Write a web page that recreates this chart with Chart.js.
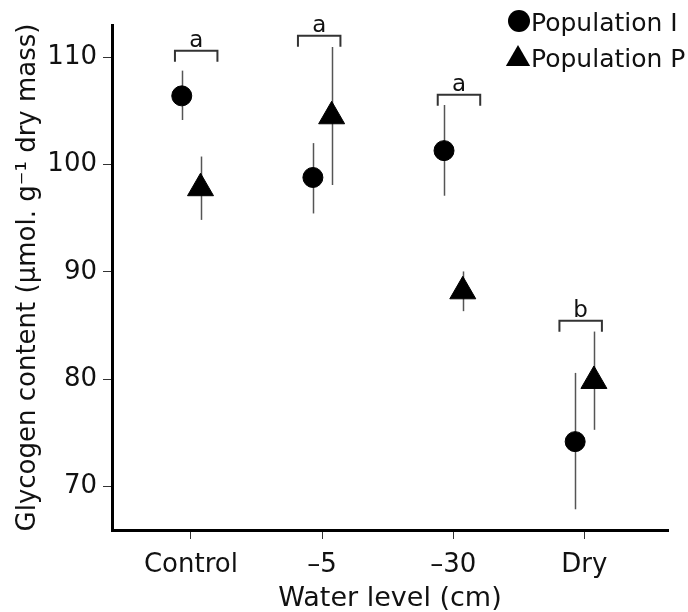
<!DOCTYPE html>
<html><head><meta charset="utf-8">
<script src="https://cdn.jsdelivr.net/npm/chart.js@4.4.1/dist/chart.umd.min.js"></script>
<style>html,body{margin:0;padding:0;background:#fff;overflow:hidden}</style>
</head><body>
<canvas id="c" width="688" height="612"></canvas>
<script>
// ---- data ----
const categories = ['Control', '–5', '–30', 'Dry'];
const yTickValues = [70, 80, 90, 100, 110];
const popI = [106.4, 98.8, 101.3, 74.2];
const popIHigh = [108.75, 102.0, 105.55, 80.6];
const popILow = [104.15, 95.45, 97.1, 67.9];
const popP = [97.8, 104.5, 88.2, 79.85];
const popPHigh = [100.75, 110.95, 90.05, 84.45];
const popPLow = [94.85, 98.1, 86.35, 75.3];
const groupLetters = ['a', 'a', 'a', 'b'];
const bracketLevels = [110.6, 112.0, 106.5, 85.45];
const seriesNames = ['Population I', 'Population P'];

// ---- style constants ----
const FONT = "'DejaVu Sans', Verdana, sans-serif";
const OFF_I = -0.070, OFF_P = 0.073;
const bracketShift = [0.04, -0.022, 0.044, -0.028];
const BRACKET_HALF = 0.162;

function pts(vals, hi, lo, off) {
  return vals.map((v, i) => ({ x: i + off, y: v, hi: hi[i], lo: lo[i] }));
}

const errorBars = {
  id: 'errorBars',
  beforeDatasetsDraw(chart) {
    const { ctx, scales: { x, y } } = chart;
    ctx.save();
    ctx.strokeStyle = '#555';
    ctx.lineWidth = 1.5;
    chart.data.datasets.forEach(ds => {
      ds.data.forEach(p => {
        const px = Math.round(x.getPixelForValue(p.x)) + 0.5;
        ctx.beginPath();
        ctx.moveTo(px, y.getPixelForValue(p.hi));
        ctx.lineTo(px, y.getPixelForValue(p.lo));
        ctx.stroke();
      });
    });
    ctx.restore();
  }
};

const brackets = {
  id: 'brackets',
  afterDatasetsDraw(chart) {
    const { ctx, scales: { x, y } } = chart;
    ctx.save();
    ctx.strokeStyle = '#333';
    ctx.lineWidth = 2;
    ctx.fillStyle = '#111';
    ctx.font = "23px " + FONT;
    ctx.textAlign = 'center';
    ctx.textBaseline = 'alphabetic';
    groupLetters.forEach((L, i) => {
      const c = i + bracketShift[i];
      const x0 = x.getPixelForValue(c - BRACKET_HALF);
      const x1 = x.getPixelForValue(c + BRACKET_HALF);
      const yt = y.getPixelForValue(bracketLevels[i]);
      ctx.beginPath();
      ctx.moveTo(x0, yt + 11);
      ctx.lineTo(x0, yt);
      ctx.lineTo(x1, yt);
      ctx.lineTo(x1, yt + 11);
      ctx.stroke();
      ctx.fillText(L, (x0 + x1) / 2, yt - 4);
    });
    ctx.restore();
  }
};

const customLegend = {
  id: 'customLegend',
  afterDraw(chart) {
    const { ctx } = chart;
    ctx.save();
    ctx.fillStyle = '#000';
    ctx.beginPath();
    ctx.arc(519, 21, 11, 0, Math.PI * 2);
    ctx.fill();
    const r = 14, cx = 518, cy = 59;
    ctx.beginPath();
    for (let k = 0; k < 3; k++) {
      const a = k * 2 * Math.PI / 3;
      const px = cx + Math.sin(a) * r, py = cy - Math.cos(a) * r;
      if (k === 0) ctx.moveTo(px, py); else ctx.lineTo(px, py);
    }
    ctx.closePath();
    ctx.fill();
    ctx.font = "25px " + FONT;
    ctx.textAlign = 'left';
    ctx.textBaseline = 'alphabetic';
    ctx.fillStyle = '#111';
    ctx.fillText(chart.data.datasets[0].label, 531, 31);
    ctx.fillText(chart.data.datasets[1].label, 531, 67);
    ctx.restore();
  }
};

Chart.defaults.font.family = FONT;
Chart.defaults.color = '#111';

new Chart(document.getElementById('c'), {
  type: 'scatter',
  data: {
    datasets: [
      {
        label: seriesNames[0],
        data: pts(popI, popIHigh, popILow, OFF_I),
        pointStyle: 'circle',
        pointRadius: 10,
        pointBorderWidth: 1,
        backgroundColor: '#000',
        borderColor: '#000'
      },
      {
        label: seriesNames[1],
        data: pts(popP, popPHigh, popPLow, OFF_P),
        pointStyle: 'triangle',
        pointRadius: 15,
        pointBorderWidth: 1,
        backgroundColor: '#000',
        borderColor: '#000'
      }
    ]
  },
  options: {
    responsive: false,
    animation: false,
    events: [],
    layout: { padding: { top: 25, right: 20, left: 0, bottom: 0 } },
    plugins: { legend: { display: false }, tooltip: { enabled: false } },
    scales: {
      x: {
        type: 'linear',
        min: -0.602,
        max: 3.638,
        afterBuildTicks(scale) { scale.ticks = categories.map((c, i) => ({ value: i })); },
        afterFit(scale) { scale.height = 82; },
        ticks: {
          callback: (v) => categories[v],
          font: { size: 26 },
          color: '#111',
          padding: 11,
          maxRotation: 0,
          autoSkip: false
        },
        grid: { display: true, drawOnChartArea: false, drawTicks: true, tickLength: 9, color: '#333', lineWidth: 1 },
        border: { display: true, color: '#000', width: 3 },
        title: {
          display: true,
          text: 'Water level (cm)',
          font: { size: 27, lineHeight: 1 },
          color: '#111',
          padding: { top: 0, bottom: 0 }
        }
      },
      y: {
        type: 'linear',
        min: 65.97,
        max: 113.0,
        afterBuildTicks(scale) { scale.ticks = yTickValues.map(v => ({ value: v })); },
        afterFit(scale) { scale.width = 112; },
        ticks: {
          font: { size: 26 },
          color: '#111',
          padding: 6
        },
        grid: { display: true, drawOnChartArea: false, drawTicks: true, tickLength: 9, color: '#333', lineWidth: 1 },
        border: { display: true, color: '#000', width: 3 },
        title: {
          display: true,
          text: 'Glycogen content (µmol. g⁻¹ dry mass)',
          font: { size: 26, lineHeight: 1 },
          color: '#111',
          padding: { top: 15, bottom: 0 }
        }
      }
    }
  },
  plugins: [errorBars, brackets, customLegend]
});
</script>
</body></html>
